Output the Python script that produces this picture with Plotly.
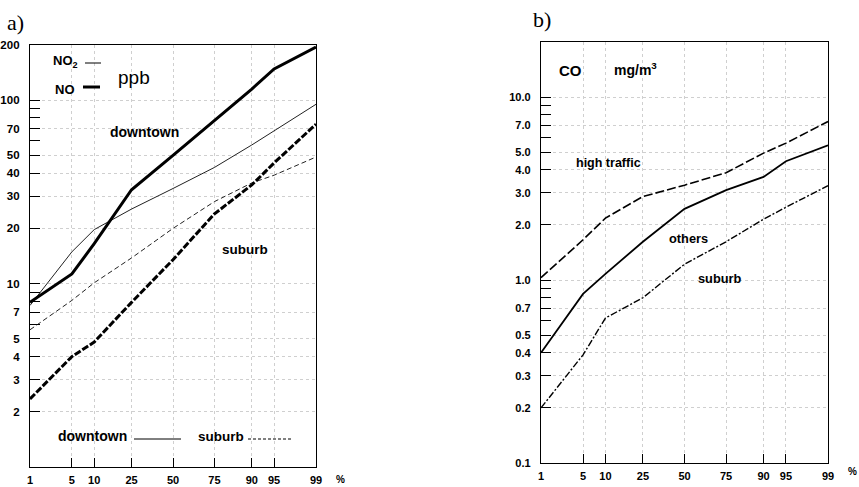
import math
from statistics import NormalDist
import plotly.graph_objects as go

W, H = 859, 487

# ---------------- data ----------------
percentiles = [1, 5, 10, 25, 50, 75, 90, 95, 99]
pct_labels = ["1", "5", "10", "25", "50", "75", "90", "95", "99"]

# panel a (ppb)
no_downtown = [7.9, 11.3, 16.5, 32.5, 50.0, 78.0, 115.0, 148.0, 195.0]
no2_downtown = [7.6, 14.9, 19.7, 25.5, 33.0, 43.0, 57.0, 68.0, 95.0]
no_suburb = [2.35, 4.0, 4.8, 7.9, 13.5, 24.0, 34.5, 45.5, 74.0]
no2_suburb = [5.6, 8.1, 10.1, 13.8, 20.0, 28.0, 35.4, 39.0, 49.0]

# panel b (mg/m3)
co_high_traffic = [1.03, 1.66, 2.18, 2.86, 3.3, 3.86, 4.94, 5.6, 7.35]
co_others = [0.4, 0.84, 1.08, 1.62, 2.45, 3.1, 3.66, 4.46, 5.45]
co_suburb = [0.2, 0.39, 0.62, 0.8, 1.22, 1.62, 2.15, 2.5, 3.28]

a_ticks = [200, 100, 70, 50, 40, 30, 20, 10, 7, 5, 4, 3, 2]
a_ticktext = ["200", "100", "70", "50", "40", "30", "20", "10", "7", "5", "4", "3", "2"]
a_minor = [90, 80, 60, 9, 8, 6]
b_ticks = [10, 7, 5, 4, 3, 2, 1, 0.7, 0.5, 0.4, 0.3, 0.2, 0.1]
b_ticktext = ["10.0", "7.0", "5.0", "4.0", "3.0", "2.0",
              "1.0", "0.7", "0.5", "0.4", "0.3", "0.2", "0.1"]
b_minor = [9, 8, 6, 0.9, 0.8, 0.6]

# ---------------- probability scale ----------------
nd = NormalDist()
def prob(p):
    return nd.inv_cdf(p / 100.0)

xz = [prob(p) for p in percentiles]

def px(x):
    return x / W

def py(y):
    return 1 - y / H

FONT = "Liberation Sans"

fig = go.Figure()

def line(y, xa, ya, width, dash, color="black"):
    fig.add_trace(go.Scatter(x=xz, y=y, xaxis=xa, yaxis=ya, mode="lines",
                             line=dict(color=color, width=width, dash=dash),
                             hoverinfo="skip"))

# panel a
line(no2_downtown, "x", "y", 1.0, "solid", "#222")
line(no2_suburb, "x", "y", 1.0, "5px,3px", "#222")
line(no_downtown, "x", "y", 3.0, "solid")
line(no_suburb, "x", "y", 3.0, "7px,2px")

# panel b
line(co_high_traffic, "x2", "y2", 1.6, "9px,3px")
line(co_others, "x2", "y2", 1.8, "solid")
line(co_suburb, "x2", "y2", 1.4, "7px,2px,2px,2px")

def bold_list(lst):
    return ["<b>%s</b>" % s for s in lst]

axis_common = dict(showline=True, linecolor="black", linewidth=1.3, mirror=True,
                   ticks="inside", tickcolor="black", tickwidth=1.2,
                   showgrid=True, gridcolor="#cfcfcf", griddash="dot", gridwidth=1,
                   zeroline=False, automargin=False)

xa_common = dict(axis_common, range=[prob(1), prob(99)], tickmode="array",
                 tickvals=xz, ticktext=bold_list(pct_labels), ticklen=9,
                 ticklabelstandoff=3,
                 tickfont=dict(family=FONT, size=11, color="black"))

def minor(vals):
    return dict(tickmode="array", tickvals=vals, ticks="inside", ticklen=10,
                tickwidth=1.2, tickcolor="black", showgrid=False)

fig.update_layout(
    width=W, height=H, margin=dict(l=0, r=0, t=0, b=0, autoexpand=False),
    paper_bgcolor="white", plot_bgcolor="white", showlegend=False,
    xaxis=dict(xa_common, domain=[px(30), px(316)], anchor="y"),
    yaxis=dict(axis_common, domain=[py(467), py(45)], anchor="x", type="log",
               range=[0, math.log10(200)], tickmode="array", tickvals=a_ticks,
               ticktext=bold_list(a_ticktext), ticklen=10, minor=minor(a_minor),
               ticklabelstandoff=7,
               tickfont=dict(family=FONT, size=11.5, color="black")),
    xaxis2=dict(xa_common, domain=[px(541), px(828)], anchor="y2"),
    yaxis2=dict(axis_common, domain=[py(463), py(42)], anchor="x2", type="log",
                range=[-1, math.log10(20)], tickmode="array", tickvals=b_ticks,
                ticktext=bold_list(b_ticktext), ticklen=10, minor=minor(b_minor),
                ticklabelstandoff=7,
                tickfont=dict(family=FONT, size=11, color="black")),
)

def txt(x, y, s, size, bold=True, family=FONT):
    fig.add_annotation(x=px(x), y=py(y), xref="paper", yref="paper",
                       text=("<b>%s</b>" % s) if bold else s,
                       showarrow=False, xanchor="left", yanchor="middle",
                       font=dict(family=family, size=size, color="black"))

# titles
txt(5, 22, "a)", 22, bold=False, family="Liberation Serif")
txt(531, 20, "b)", 22, bold=False, family="Liberation Serif")

# panel a labels
txt(51, 61, "NO<sub>2</sub>", 13)
txt(53, 90, "NO", 13)
txt(116, 77, "ppb", 19, bold=False)
txt(108, 132, "downtown", 14)
txt(220, 250, "suburb", 13.5)
txt(56, 436, "downtown", 14)
txt(196, 436, "suburb", 13.5)
txt(334, 479, "%", 10)

# panel b labels
txt(557, 70, "CO", 15)
txt(612, 69, "mg/m<sup>3</sup>", 14)
txt(574, 163, "high traffic", 12.5)
txt(667, 238, "others", 12.8)
txt(696, 278, "suburb", 12.8)
txt(846, 471, "%", 10)

# legend key strokes
def key(x0, x1, y, width, dash):
    fig.add_shape(type="line", xref="paper", yref="paper",
                  x0=px(x0), x1=px(x1), y0=py(y), y1=py(y),
                  line=dict(color="black", width=width, dash=dash))

key(85, 101, 63, 1.0, "solid")
key(83, 100, 87, 3.0, "solid")
key(134, 181, 439, 1.0, "solid")
key(248, 293, 439, 1.0, "3px,2px")

fig.write_html("out.html", config={"displayModeBar": False},
               post_script="document.body.style.margin='0';document.body.style.overflow='hidden';")
